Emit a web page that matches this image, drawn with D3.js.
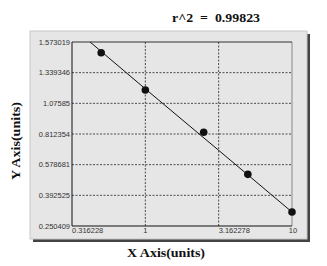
<!DOCTYPE html>
<html><head><meta charset="utf-8">
<script src="https://cdn.jsdelivr.net/npm/d3@7"></script>
<style>body{margin:0;background:#fff}svg{display:block}</style>
</head><body><svg id="c" width="327" height="266"></svg>
<script>
const yTicks = [0.250409, 0.392525, 0.578681, 0.812354, 1.07585, 1.339346, 1.573019];
const yTickLabels = ["0.250409","0.392525","0.578681","0.812354","1.07585","1.339346","1.573019"];
const xTicks = [0.316228, 1, 3.162278, 10];
const xTickLabels = ["0.316228","1","3.162278","10"];
const pointX = [0.5, 1, 2.5, 5, 10];
const pointY = [1.491, 1.190, 0.827, 0.520, 0.315];
const fitX = [0.42, 1, 3.162278, 10];
const fitY = [1.573019, 1.200, 0.688, 0.315];
const r2Text = "r^2  =  0.99823";

const svg = d3.select("#c");
const L = 72, R = 292, T = 42, B = 226;
const x = d3.scaleLog().domain([0.316228, 10]).range([L, R]);
const y = d3.scaleLinear().domain(yTicks).range(yTicks.map((d,i)=> B - i*(B-T)/(yTicks.length-1)));

// panel with shadow
svg.append("rect").attr("x",33).attr("y",34).attr("width",277).attr("height",208).attr("fill","#444");
svg.append("rect").attr("x",30).attr("y",31).attr("width",277).attr("height",208).attr("fill","#e6e6e6").attr("stroke","#c8c8c8").attr("stroke-width",1);

// grid
const g = svg.append("g");
g.selectAll(".gy").data(yTicks.slice(1,-1)).join("line")
  .attr("x1",L).attr("x2",R).attr("y1",d=>y(d)).attr("y2",d=>y(d))
  .attr("stroke","#222").attr("stroke-width",0.8).attr("stroke-dasharray","2,1.5");
g.selectAll(".gx").data(xTicks.slice(1,-1)).join("line")
  .attr("y1",T).attr("y2",B).attr("x1",d=>x(d)).attr("x2",d=>x(d))
  .attr("stroke","#222").attr("stroke-width",0.8).attr("stroke-dasharray","2,1.5");

// frame
svg.append("line").attr("x1",R).attr("x2",R).attr("y1",T).attr("y2",B).attr("stroke","#888").attr("stroke-width",1);
svg.append("line").attr("x1",L).attr("x2",R).attr("y1",T).attr("y2",T).attr("stroke","#333").attr("stroke-width",1);
svg.append("line").attr("x1",L).attr("x2",L).attr("y1",T).attr("y2",B).attr("stroke","#111").attr("stroke-width",1);
svg.append("line").attr("x1",L).attr("x2",R).attr("y1",B).attr("y2",B).attr("stroke","#111").attr("stroke-width",1);

// fit line
const line = d3.line().x((d,i)=>x(fitX[i])).y((d,i)=>y(fitY[i]));
svg.append("path").datum(fitX).attr("d",line).attr("fill","none").attr("stroke","#111").attr("stroke-width",1);

// points
svg.selectAll(".pt").data(pointX).join("circle")
  .attr("cx",d=>x(d)).attr("cy",(d,i)=>y(pointY[i])).attr("r",3.8).attr("fill","#111");

// y tick labels
svg.selectAll(".yl").data(yTicks).join("text")
  .attr("x",70).attr("y",d=>y(d)).attr("dy","0.35em").attr("text-anchor","end")
  .attr("font-family","Liberation Sans, Arial, sans-serif").attr("font-size",7.5).attr("fill","#333")
  .text((d,i)=>yTickLabels[i]);
// x tick labels
svg.selectAll(".xl").data(xTicks).join("text")
  .attr("x",(d,i)=> i===3 ? x(d)+1 : x(d)).attr("y",B+7)
  .attr("text-anchor",(d,i)=> i===1||i===3 ? "middle" : "start")
  .attr("font-family","Liberation Sans, Arial, sans-serif").attr("font-size",7.5).attr("fill","#333")
  .text((d,i)=>xTickLabels[i]);

// titles
svg.append("text").attr("x",127).attr("y",257)
  .attr("font-family","Liberation Serif, Times New Roman, serif").attr("font-weight","bold").attr("font-size",12).attr("fill","#111")
  .attr("textLength",78).attr("lengthAdjust","spacingAndGlyphs")
  .text("X Axis(units)");
svg.append("text").attr("transform","translate(20,180) rotate(-90)")
  .attr("font-family","Liberation Serif, Times New Roman, serif").attr("font-weight","bold").attr("font-size",12).attr("fill","#111")
  .attr("textLength",78).attr("lengthAdjust","spacingAndGlyphs")
  .text("Y Axis(units)");
svg.append("text").attr("x",172).attr("y",22)
  .attr("font-family","Liberation Serif, Times New Roman, serif").attr("font-weight","bold").attr("font-size",12).attr("fill","#111")
  .attr("xml:space","preserve").style("white-space","pre")
  .attr("textLength",88).attr("lengthAdjust","spacingAndGlyphs")
  .text(r2Text);
</script></body></html>
